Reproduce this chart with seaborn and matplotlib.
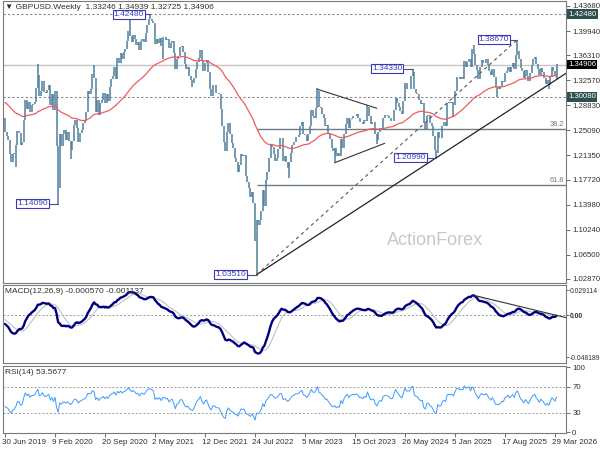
import numpy as np
import pandas as pd
import matplotlib
matplotlib.use("Agg")
import matplotlib.pyplot as plt
import matplotlib.transforms as mtransforms
import seaborn as sns

#### weekly closes (one value per bar, left to right)
# weeks before the first bar, only used to warm up the EMA / MACD / RSI
prior_closes = [
    1.3140, 1.3270, 1.3210, 1.3230, 1.3110, 1.3140, 1.3120, 1.3000, 1.2760, 1.2740,
    1.2840, 1.2990, 1.2920, 1.3070, 1.3190, 1.3070, 1.3040, 1.3130, 1.3150, 1.3000,
    1.2810, 1.3000, 1.2970, 1.2830, 1.2810, 1.2740, 1.2720, 1.2650, 1.2640, 1.2620,
    1.2730, 1.2840, 1.3050, 1.3180, 1.2940, 1.2860, 1.3010, 1.3260, 1.3010, 1.3290,
    1.3210, 1.3050, 1.3070, 1.3050, 1.3000, 1.2930, 1.3160, 1.3000, 1.2720, 1.2660,
    1.2640, 1.2720, 1.2570, 1.2730, 1.2690,
]

closes = [
    1.2490, 1.2430, 1.2370, 1.2160, 1.2030, 1.2150, 1.2170, 1.2290, 1.2500, 1.2470,
    1.2290, 1.2330, 1.2660, 1.2970, 1.2830, 1.2940, 1.2780, 1.2890, 1.2900, 1.2930,
    1.3140, 1.3330, 1.3020, 1.3090, 1.3250, 1.3080, 1.3060, 1.3110, 1.3190, 1.2890,
    1.3050, 1.2820, 1.3090, 1.2280, 1.1650, 1.2460, 1.2270, 1.2450, 1.2510, 1.2370,
    1.2480, 1.2350, 1.2210, 1.2350, 1.2590, 1.2670, 1.2550, 1.2330, 1.2470, 1.2510,
    1.2620, 1.2650, 1.2790, 1.3090, 1.3050, 1.3120, 1.3350, 1.3290, 1.2790, 1.2960,
    1.2740, 1.2920, 1.2960, 1.3060, 1.2920, 1.3050, 1.2950, 1.3150, 1.3280, 1.3320,
    1.3450, 1.3280, 1.3590, 1.3510, 1.3670, 1.3570, 1.3680, 1.3730, 1.3850, 1.3990,
    1.3920, 1.3830, 1.3930, 1.3870, 1.3790, 1.3830, 1.3710, 1.3840, 1.3880, 1.3830,
    1.3960, 1.4090, 1.4180, 1.4170, 1.4150, 1.4110, 1.3800, 1.3880, 1.3820, 1.3890,
    1.3770, 1.3910, 1.3900, 1.3860, 1.3870, 1.3740, 1.3810, 1.3840, 1.3670, 1.3420,
    1.3580, 1.3620, 1.3750, 1.3770, 1.3680, 1.3500, 1.3420, 1.3450, 1.3320, 1.3260,
    1.3210, 1.3290, 1.3420, 1.3530, 1.3590, 1.3710, 1.3540, 1.3390, 1.3510, 1.3560,
    1.3380, 1.3120, 1.3020, 1.3180, 1.3180, 1.3070, 1.3070, 1.3050, 1.2830, 1.2570,
    1.2330, 1.2200, 1.2490, 1.2620, 1.2450, 1.2320, 1.2250, 1.2100, 1.2040, 1.1880,
    1.1990, 1.2160, 1.2130, 1.2140, 1.1830, 1.1730, 1.1640, 1.1510, 1.1590, 1.1420,
    1.0860, 1.1170, 1.1090, 1.1170, 1.1300, 1.1620, 1.1380, 1.1770, 1.1890, 1.2090,
    1.2290, 1.2260, 1.2150, 1.2050, 1.2090, 1.2230, 1.2400, 1.2390, 1.2050, 1.2120,
    1.2040, 1.1940, 1.2030, 1.2170, 1.2290, 1.2330, 1.2410, 1.2410, 1.2440, 1.2570,
    1.2630, 1.2450, 1.2440, 1.2350, 1.2450, 1.2580, 1.2820, 1.2720, 1.2700, 1.2840,
    1.3090, 1.2860, 1.2850, 1.2750, 1.2700, 1.2570, 1.2590, 1.2460, 1.2380, 1.2240,
    1.2200, 1.2240, 1.2130, 1.2170, 1.2130, 1.2380, 1.2240, 1.2460, 1.2600, 1.2700,
    1.2550, 1.2680, 1.2700, 1.2730, 1.2720, 1.2750, 1.2700, 1.2630, 1.2630, 1.2600,
    1.2670, 1.2650, 1.2860, 1.2730, 1.2600, 1.2630, 1.2630, 1.2450, 1.2370, 1.2490,
    1.2550, 1.2520, 1.2700, 1.2740, 1.2740, 1.2720, 1.2690, 1.2650, 1.2650, 1.2810,
    1.2990, 1.2920, 1.2860, 1.2800, 1.2760, 1.2950, 1.3210, 1.3120, 1.3120, 1.3120,
    1.3320, 1.3380, 1.3120, 1.3070, 1.3050, 1.2960, 1.2910, 1.2920, 1.2620, 1.2530,
    1.2730, 1.2740, 1.2620, 1.2570, 1.2420, 1.2210, 1.2170, 1.2480, 1.2390, 1.2400,
    1.2580, 1.2630, 1.2580, 1.2920, 1.2930, 1.2920, 1.2940, 1.2890, 1.3090, 1.3300,
    1.3310, 1.3270, 1.3300, 1.3280, 1.3540, 1.3460, 1.3530, 1.3570, 1.3450, 1.3720,
    1.3650, 1.3490, 1.3410, 1.3280, 1.3450, 1.3560, 1.3520, 1.3510, 1.3570, 1.3480,
    1.3400, 1.3330, 1.3430, 1.3310, 1.3150, 1.3160, 1.3130, 1.3170, 1.3240, 1.3230,
    1.3370, 1.3390, 1.3460, 1.3380, 1.3450, 1.3510, 1.3420, 1.3630, 1.3690, 1.3580,
    1.3440, 1.3390, 1.3290, 1.3410, 1.3320, 1.3250, 1.3360, 1.3480, 1.3570, 1.3610,
    1.3500, 1.3420, 1.3330, 1.3440, 1.3380, 1.3290, 1.3200, 1.3260, 1.3180, 1.3300,
    1.3450, 1.3400, 1.3325, 1.34906,
]

# wicks that stick out of the bar bodies
high_bars = [21, 57, 80, 93, 200, 232, 261, 300, 328, 353]
high_vals = [1.3500, 1.3480, 1.4200, 1.4248, 1.3142, 1.2893, 1.3433, 1.3789, 1.3867, 1.34939]
low_bars = [7, 34, 42, 101, 120, 161, 182, 211, 238, 276, 287, 315, 348, 353]
low_vals = [1.1960, 1.1409, 1.2076, 1.3572, 1.3160, 1.0351, 1.1803, 1.2037, 1.2300, 1.2099,
            1.2708, 1.3010, 1.3130, 1.32725]

# labelled swing points
pivot_bars = [93, 34, 161, 261, 276, 328]
pivot_vals = [1.4248, 1.1409, 1.0351, 1.3433, 1.2099, 1.3867]
pivot_text = ['1.42480', '1.14090', '1.03510', '1.34330', '1.20990', '1.38670']
pivot_gap = [3.2, 5.8, 5.8, 5.8, 5.8, 4.5]

level_vals = [1.4248, 1.3008]
last_price = 1.34906
fib_names = ['38.2', '61.8']
fib_vals = [1.2524, 1.1694]
fib_start = 161

trend_bars = [161, 276]
trend_vals = [1.0351, 1.2099]
channel_bars = [161, 328]
channel_vals = [1.0351, 1.3867]
tri_upper_bars = [200, 238]
tri_upper_vals = [1.3123, 1.2839]
tri_lower_bars = [211, 243]
tri_lower_vals = [1.2025, 1.2315]

macd_tl_bars = [300, 359]
macd_tl_vals = [0.0230, -0.0027]

price_ticks = [1.43680, 1.39940, 1.36310, 1.32570, 1.28830, 1.25090, 1.21350,
               1.17720, 1.13980, 1.10240, 1.06500, 1.02870]
date_bars = [0, 32, 64, 96, 128, 160, 192, 224, 256, 288, 320, 352]
date_text = ['30 Jun 2019', '9 Feb 2020', '20 Sep 2020', '2 May 2021', '12 Dec 2021',
             '24 Jul 2022', '5 Mar 2023', '15 Oct 2023', '26 May 2024', '5 Jan 2025',
             '17 Aug 2025', '29 Mar 2026']

#### indicators
allc = pd.Series(prior_closes + closes)
k = len(prior_closes)
ema55 = allc.ewm(span=55, adjust=False).mean().to_numpy()[k:]
macd_all = allc.ewm(span=12, adjust=False).mean() - allc.ewm(span=26, adjust=False).mean()
sig_all = macd_all.rolling(9).mean()
delta = allc.diff()
gain = delta.clip(lower=0).ewm(alpha=1/14, adjust=False).mean()
loss = (-delta.clip(upper=0)).ewm(alpha=1/14, adjust=False).mean()
rsi_all = 100 - 100 / (1 + gain / loss)

n = len(closes)
df = pd.DataFrame({'bar': np.arange(n), 'close': closes, 'ema': ema55,
                   'macd': macd_all.to_numpy()[k:], 'signal': sig_all.to_numpy()[k:],
                   'rsi': rsi_all.to_numpy()[k:]})
opens = np.array([prior_closes[-1]] + closes[:-1])
highs = np.maximum(opens, df.close.to_numpy())
lows = np.minimum(opens, df.close.to_numpy())
highs[high_bars] = high_vals
lows[low_bars] = low_vals

sns.set_theme(style="white")
plt.rcParams['font.family'] = ['Liberation Sans', 'DejaVu Sans']

fig = plt.figure(figsize=(6, 4.5), dpi=100)
ax = fig.add_axes([0.005, 0.3711, 0.9383, 0.6267])
ax2 = fig.add_axes([0.005, 0.1933, 0.9383, 0.1733])
ax3 = fig.add_axes([0.005, 0.0378, 0.9383, 0.1489])
xmin, xmax = -1.28, 359.04
tcol = '#303030'
lab_col = '#3a3ab4'

for a in (ax, ax2, ax3):
    a.set_xlim(xmin, xmax)
    for s in a.spines.values():
        s.set_color('#7a7a7a')
        s.set_linewidth(0.8)
    a.yaxis.tick_right()
    a.tick_params(axis='y', direction='out', length=3, width=0.6, pad=1.5,
                  labelsize=5.6, colors='#555555', labelcolor=tcol)

# price panel
ax.set_ylim(1.02269, 1.44428)
for v in level_vals:
    ax.axhline(v, color='#8a8a8a', lw=0.8, ls=(0, (2, 2)))
ax.axhline(last_price, color='#c4c4c4', lw=1)
ax.hlines(fib_vals, fib_start, xmax, color='#6f7e88', lw=1)
for name, v in zip(fib_names, fib_vals):
    ax.text(xmax - 1, v + 0.002, name, ha='right', va='bottom', fontsize=5.3, color='#777777')

ax.vlines(df.bar, lows, highs, color='#4f7f9c', lw=1.1)
sns.lineplot(data=df, x='bar', y='ema', ax=ax, color='#f25a5a', lw=0.9, legend=False)

slope = (trend_vals[1] - trend_vals[0]) / (trend_bars[1] - trend_bars[0])
ax.plot([trend_bars[0], xmax], [trend_vals[0], trend_vals[0] + slope * (xmax - trend_bars[0])],
        color='#222222', lw=0.9)
ax.plot(channel_bars, channel_vals, color='#555555', lw=0.8, ls=(0, (3, 3)))
ax.plot(tri_upper_bars, tri_upper_vals, color='#333333', lw=0.8)
ax.plot(tri_lower_bars, tri_lower_vals, color='#333333', lw=0.8)

for b, v, t, g in zip(pivot_bars, pivot_vals, pivot_text, pivot_gap):
    ax.plot([b - g, b], [v, v], color='#4b4b9b', lw=0.8)
    ax.text(b - g - 0.8, v, t, ha='right', va='center', fontsize=6, color=lab_col,
            bbox=dict(boxstyle='square,pad=0.12', fc='white', ec=lab_col, lw=0.8))

ax.set_yticks(price_ticks)
ax.set_yticklabels(['%.5f' % t for t in price_ticks])
ax.set_xticks([])
yt = ax.get_yaxis_transform()
for v in level_vals:
    ax.text(1.004, v, '%.5f' % v, transform=yt, ha='left', va='center', fontsize=5.6,
            color='white', bbox=dict(boxstyle='square,pad=0.15', fc='#2f4f4f', ec='none'))
ax.text(1.004, last_price, '%.5f' % last_price, transform=yt, ha='left', va='center',
        fontsize=5.6, color='white', bbox=dict(boxstyle='square,pad=0.15', fc='black', ec='none'))
ax.text(0.004, 0.988, '\u25bc GBPUSD.Weekly  1.33246 1.34939 1.32725 1.34906',
        transform=ax.transAxes, ha='left', va='top', fontsize=6, color=tcol)
ax.text(0.767, 0.15, 'ActionForex', transform=ax.transAxes, ha='center', va='center',
        fontsize=13, color='#c8c8c8')
ax.set_xlabel('')
ax.set_ylabel('')

# MACD panel
ax2.set_ylim(-0.05511, 0.03488)
ax2.axhline(0, color='#9a9a9a', lw=0.7, ls=(0, (2, 2)))
sns.lineplot(data=df, x='bar', y='signal', ax=ax2, color='#c0c0c0', lw=0.8, legend=False)
sns.lineplot(data=df, x='bar', y='macd', ax=ax2, color='#00007f', lw=1.7, legend=False)
ax2.plot(macd_tl_bars, macd_tl_vals, color='#333333', lw=0.8)
ax2.set_yticks([0.029114, 0.0, -0.048189])
ax2.set_yticklabels(['0.029114', '0.00', '-0.048189'])
ax2.tick_params(axis='y', labelsize=4.9, pad=0.8, length=2)
ax2.get_yticklabels()[1].set_fontweight('bold')
ax2.set_xticks([])
ax2.set_xlabel('')
ax2.set_ylabel('')
ax2.text(0.004, 0.96, 'MACD(12,26,9) -0.000570 -0.001137', transform=ax2.transAxes,
         ha='left', va='top', fontsize=6, color=tcol)

# RSI panel
ax3.set_ylim(-0.8, 102.3)
for v in (70, 30):
    ax3.axhline(v, color='#9a9a9a', lw=0.7, ls=(0, (2, 2)))
sns.lineplot(data=df, x='bar', y='rsi', ax=ax3, color='#3b9bff', lw=0.7, legend=False)
ax3.set_yticks([100, 70, 30, 0])
ax3.set_yticklabels(['100', '70', '30', '0'])
ax3.text(0.004, 0.95, 'RSI(14) 53.5677', transform=ax3.transAxes,
         ha='left', va='top', fontsize=6, color=tcol)
ax3.set_xticks(date_bars)
ax3.set_xticklabels(date_text)
ax3.tick_params(axis='x', direction='out', length=3, width=0.6, pad=1.5,
                labelsize=5.8, colors='#555555', labelcolor=tcol, bottom=True)
shift = mtransforms.ScaledTranslation(-3 / 100, 0, fig.dpi_scale_trans)
for t in ax3.get_xticklabels():
    t.set_ha('left')
    t.set_transform(t.get_transform() + shift)
ax3.set_xlabel('')
ax3.set_ylabel('')

fig.savefig('out.png', dpi=100)
